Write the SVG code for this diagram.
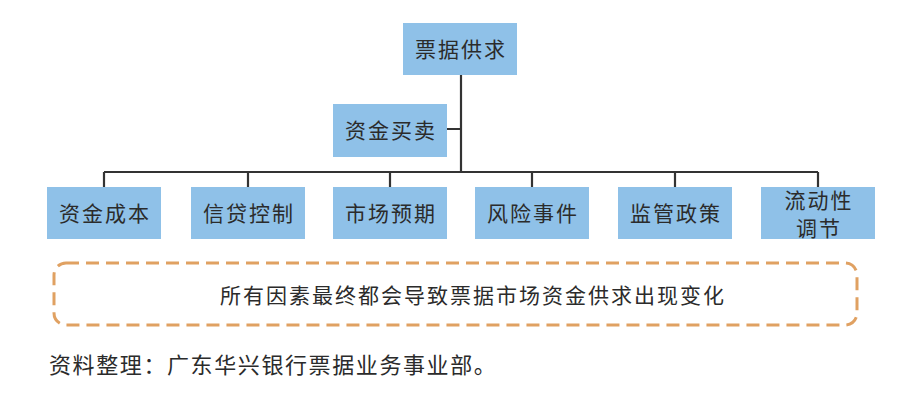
<svg xmlns="http://www.w3.org/2000/svg" width="900" height="411" viewBox="0 0 900 411">
<style>
.box{fill:#8fc1e8;}
.t{font-family:"Noto Sans CJK SC","Noto Sans",sans-serif;font-size:21px;fill:#2b2b2b;text-anchor:middle;letter-spacing:2px;}
.ln{stroke:#333;stroke-width:2.2;fill:none;}
</style>
<rect width="900" height="411" fill="#ffffff"/>
<g id="connectors">
<path class="ln" d="M461 75V172M447 129H461M104 172H818M104 172V187M248 172V187M390 172V187M532 172V187M675 172V187M818 172V187"/>
</g>
<g id="node-top"><rect class="box" x="403" y="23" width="114" height="52"/><text class="t" x="461" y="57">票据供求</text></g>
<g id="node-zjmm"><rect class="box" x="333" y="104" width="114" height="53"/><text class="t" x="391" y="138">资金买卖</text></g>
<g id="node-1"><rect class="box" x="47" y="187" width="114" height="52"/><text class="t" x="105" y="221">资金成本</text></g>
<g id="node-2"><rect class="box" x="191" y="187" width="114" height="52"/><text class="t" x="249" y="221">信贷控制</text></g>
<g id="node-3"><rect class="box" x="333" y="187" width="114" height="52"/><text class="t" x="391" y="221">市场预期</text></g>
<g id="node-4"><rect class="box" x="475" y="187" width="114" height="52"/><text class="t" x="533" y="221">风险事件</text></g>
<g id="node-5"><rect class="box" x="618" y="187" width="114" height="52"/><text class="t" x="676" y="221">监管政策</text></g>
<g id="node-6"><rect class="box" x="761" y="187" width="114" height="52"/><text class="t" x="819" y="208">流动性</text><text class="t" x="819" y="236">调节</text></g>
<g id="summary">
<rect x="54" y="263" width="803" height="62" rx="12" ry="12" fill="none" stroke="#e0a162" stroke-width="3" stroke-dasharray="13 7"/>
<text class="t" x="220" y="303" style="text-anchor:start">所有因素最终都会导致票据市场资金供求出现变化</text>
</g>
<text class="t" x="49" y="373" style="text-anchor:start;font-size:22px;letter-spacing:1.6px">资料整理：广东华兴银行票据业务事业部。</text>
</svg>
